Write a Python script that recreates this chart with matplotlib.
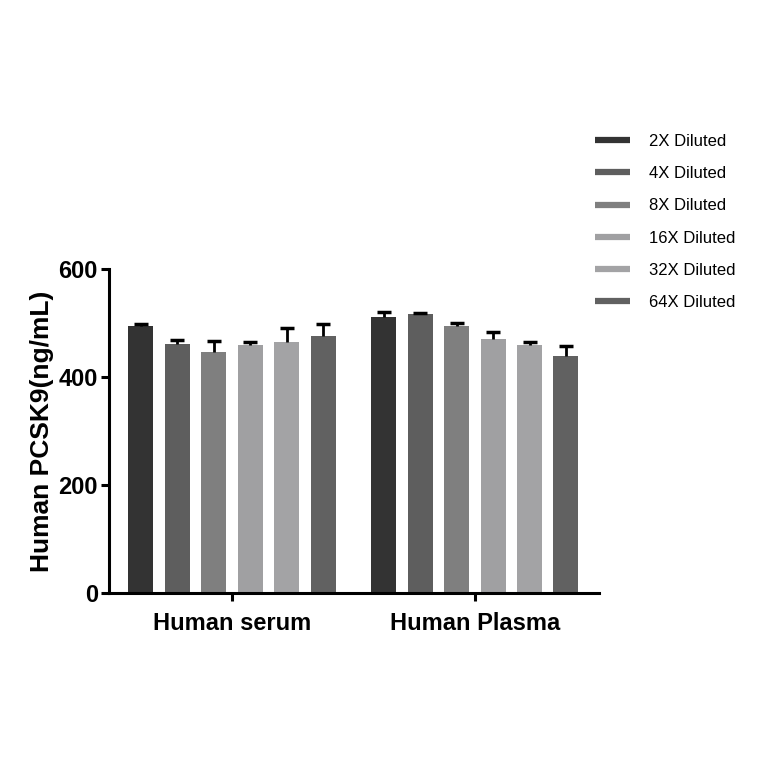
#!/usr/bin/env python3
"""Grouped bar chart of human PCSK9 recovery across dilutions."""

import matplotlib

matplotlib.use("Agg")
import matplotlib.pyplot as plt
from matplotlib.lines import Line2D
import numpy as np

groups = ["Human serum", "Human Plasma"]
dilutions = ["2X Diluted", "4X Diluted", "8X Diluted", "16X Diluted", "32X Diluted", "64X Diluted"]
serum_mean = [494, 462, 446, 460, 464, 476]
serum_err = [4, 6, 21, 4, 27, 22]
plasma_mean = [512, 517, 494, 470, 460, 439]
plasma_err = [8, 2, 6, 13, 4, 18]
y_ticks = [0, 200, 400, 600]

colors = ["#333333", "#5e5e5e", "#7f7f7f", "#a0a0a2", "#a3a3a5", "#616161"]

plt.rcParams["font.family"] = ["Liberation Sans", "DejaVu Sans"]

fig = plt.figure(figsize=(7.64, 7.64), dpi=100)
ax = fig.add_axes([0.1427, 0.2238, 0.641, 0.4241])

means = np.array([serum_mean, plasma_mean])
errs = np.array([serum_err, plasma_err])
x = np.arange(len(groups))
step = 0.15
width = 0.103
for i, name in enumerate(dilutions):
    xi = x + (i - 2.5) * step
    ax.bar(xi, means[:, i], width=width, color=colors[i], zorder=2)
    _, caps, _ = ax.errorbar(
        xi, means[:, i], yerr=[np.zeros(len(groups)), errs[:, i]],
        fmt="none", ecolor="black", elinewidth=2, capsize=5, capthick=2.5, zorder=3,
    )
    caps[0].set_visible(False)

ax.set_xlim(-0.506, 1.51)
ax.set_ylim(0, 600)
ax.set_yticks(y_ticks)
ax.set_yticklabels([str(v) for v in y_ticks], fontsize=17, fontweight="bold")
ax.set_xticks(x)
ax.set_xticklabels(groups, fontsize=17, fontweight="bold")
ax.set_ylabel("Human PCSK9(ng/mL)", fontsize=19, fontweight="bold", labelpad=3)

for side in ["top", "right"]:
    ax.spines[side].set_visible(False)
for side in ["left", "bottom"]:
    ax.spines[side].set_linewidth(2.2)
ax.tick_params(axis="both", width=2.2, length=6, direction="out")
ax.tick_params(axis="x", pad=8)
ax.tick_params(axis="y", pad=2)

handles = [
    Line2D([0], [0], color=c, lw=4.5, solid_capstyle="butt") for c in colors
]
fig.legend(
    handles, dilutions, loc="upper left", bbox_to_anchor=(0.779, 0.8245),
    frameon=False, fontsize=12, handlelength=2.1, handletextpad=1.14,
    labelspacing=1.03, borderpad=0, borderaxespad=0,
)

fig.savefig("out.png", dpi=100, facecolor="white")
plt.close(fig)
